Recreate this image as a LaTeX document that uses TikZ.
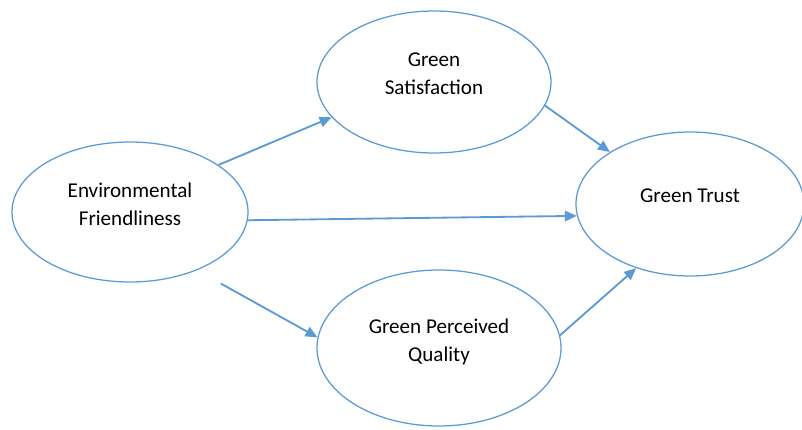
\documentclass[tikz,border=0pt]{standalone}
\usepackage{fontspec}
\setmainfont{Carlito}
\definecolor{lineblue}{RGB}{91, 155, 213}
\usetikzlibrary{arrows.meta, positioning, shapes.geometric}

\begin{document}
\begin{tikzpicture}[
  construct/.style={draw=lineblue, line width=0.9pt, ellipse, inner sep=0pt},
  caption/.style={align=center, font=\fontsize{15}{20}\selectfont, yshift=0.2cm},
  link/.style={draw=lineblue, line width=1.3pt, -{Triangle[length=0.3cm, width=0.26cm]}}
]
\useasboundingbox (0,0) rectangle (20.05,10.725);

% constructs
\node[construct, minimum width=5.9cm, minimum height=3.5cm,
  label={[caption]center:{Environmental\\Friendliness}}] (env) at (3.25,5.425) {};
\node[construct, minimum width=5.85cm, minimum height=3.55cm,
  label={[caption]center:{Green\\Satisfaction}}] (sat) at (10.85,8.675) {};
\node[construct, minimum width=5.7cm, minimum height=3.6cm,
  label={[caption]center:{Green Trust}}] (trust) at (17.25,5.625) {};
\node[construct, minimum width=6.1cm, minimum height=3.9cm,
  label={[caption, yshift=-0.05cm]center:{Green Perceived\\Quality}}] (qual) at (10.975,2.025) {};

% paths
\draw[link] (env.28) -- (sat.199);
\draw[link] (env.-4) -- (trust.186);
\draw[link, shorten <=0.68cm] (env.-41) -- (qual.175);
\draw[link] (sat.-12) -- (trust.147);
\draw[link] (qual.6) -- (trust.230);
\end{tikzpicture}
\end{document}
